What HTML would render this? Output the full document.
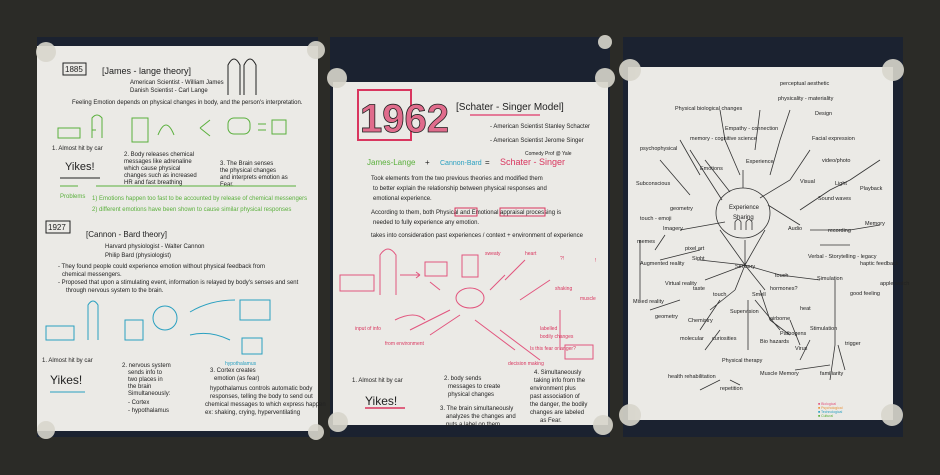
<!DOCTYPE html>
<html><head><meta charset="utf-8"><style>
html,body{margin:0;padding:0;background:#2b2b27;width:940px;height:475px;overflow:hidden}
svg{position:absolute;left:0;top:0}
text{font-family:"Liberation Sans",sans-serif}
</style></head><body>
<svg width="940" height="475" viewBox="0 0 940 475">
<rect width="940" height="475" fill="#2b2b27"/>
<!-- panel backgrounds -->
<rect x="37" y="37" width="281" height="400" fill="#1b2230"/>
<rect x="330" y="37" width="280" height="400" fill="#1b2230"/>
<rect x="623" y="37" width="280" height="400" fill="#1b2230"/>
<!-- papers -->
<rect x="37" y="46" width="281" height="385" fill="#ebeae6"/>
<rect x="333" y="82" width="275" height="343" fill="#ebeae6"/>
<rect x="628" y="67" width="265" height="353" fill="#ebeae6"/>
<!-- tape circles -->
<g fill="#d8d6cc" opacity="0.9">
<circle cx="46" cy="52" r="10"/><circle cx="316" cy="50" r="9"/>
<circle cx="46" cy="430" r="9"/><circle cx="316" cy="432" r="8"/>
<circle cx="337" cy="78" r="10"/><circle cx="605" cy="78" r="10"/><circle cx="605" cy="42" r="7"/>
<circle cx="338" cy="422" r="10"/><circle cx="603" cy="425" r="10"/>
<circle cx="630" cy="70" r="11"/><circle cx="893" cy="70" r="11"/>
<circle cx="630" cy="415" r="11"/><circle cx="892" cy="415" r="11"/>
</g>
<!-- LEFT PAPER -->
<g fill="#222" font-size="6">
<text x="65" y="72" font-size="8">1885</text>
<rect x="63" y="63" width="23" height="12" fill="none" stroke="#222"/>
<text x="102" y="74" font-size="9">[James - lange theory]</text>
<text x="130" y="84">American Scientist - William James</text>
<text x="130" y="92">Danish Scientist - Carl Lange</text>
<text x="72" y="104">Feeling Emotion depends on physical changes in body, and the person's interpretation.</text>
<text x="52" y="150" font-size="6">1. Almost hit by car</text>
<text x="65" y="170" font-size="11">Yikes!</text>
<text x="124" y="156">2. Body releases chemical</text>
<text x="124" y="163">messages like adrenaline</text>
<text x="124" y="170">which cause physical</text>
<text x="124" y="177">changes such as increased</text>
<text x="124" y="184">HR and fast breathing</text>
<text x="220" y="165">3. The Brain senses</text>
<text x="220" y="172">the physical changes</text>
<text x="220" y="179">and interprets emotion as</text>
<text x="220" y="186">Fear.</text>
<text x="48" y="230" font-size="8">1927</text>
<rect x="46" y="221" width="24" height="12" fill="none" stroke="#222"/>
<text x="86" y="237" font-size="8">[Cannon - Bard theory]</text>
<text x="105" y="248">Harvard physiologist - Walter Cannon</text>
<text x="105" y="257">Philip Bard (physiologist)</text>
<text x="58" y="268">- They found people could experience emotion without physical feedback from</text>
<text x="62" y="276">chemical messengers.</text>
<text x="58" y="284">- Proposed that upon a stimulating event, information is relayed by body's senses and sent</text>
<text x="66" y="292">through nervous system to the brain.</text>
<text x="42" y="362">1. Almost hit by car</text>
<text x="50" y="384" font-size="12">Yikes!</text>
<text x="122" y="367">2. nervous system</text>
<text x="128" y="374">sends info to</text>
<text x="128" y="381">two places in</text>
<text x="128" y="388">the brain</text>
<text x="128" y="395">Simultaneously:</text>
<text x="128" y="404">- Cortex</text>
<text x="128" y="412">- hypothalamus</text>
<text x="210" y="372">3. Cortex creates</text>
<text x="214" y="380">emotion (as fear)</text>
<text x="210" y="390">hypothalamus controls automatic body</text>
<text x="210" y="398">responses, telling the body to send out</text>
<text x="205" y="406">chemical messages to which express happen</text>
<text x="205" y="414">ex: shaking, crying, hyperventilating</text>
</g>
<g fill="#5ab03c" font-size="6">
<text x="60" y="198">Problems</text>
<text x="92" y="200">1) Emotions happen too fast to be accounted by release of chemical messengers</text>
<text x="92" y="211">2) different emotions have been shown to cause similar physical responses</text>
</g>
<g stroke="#5ab03c" fill="none" stroke-width="1">
<rect x="58" y="128" width="22" height="10"/><path d="M92 138 V118 q5 -6 10 0 V138"/>
<rect x="132" y="118" width="16" height="24"/><path d="M158 135 q8 -20 16 0"/>
<path d="M200 128 l10 -8 M200 128 l10 8"/><rect x="228" y="118" width="22" height="16" rx="6"/>
<path d="M258 124 h8 M258 130 h8"/><rect x="272" y="120" width="14" height="14"/>
<path d="M60 186 h18 M96 186 h200 M92 130 h4"/>
</g>
<g stroke="#222" fill="none" stroke-width="1">
<path d="M228 95 V65 q6 -12 12 0 V95 M244 95 V65 q6 -12 12 0 V95"/>
<path d="M60 178 h40"/>
</g>
<g stroke="#2aa0c0" fill="none" stroke-width="1">
<rect x="46" y="326" width="28" height="14"/><path d="M88 340 V305 q5 -8 10 0 V340"/>
<rect x="125" y="320" width="18" height="20"/><circle cx="165" cy="318" r="12"/>
<path d="M190 312 q20 -12 45 -12 M190 335 q20 -5 40 5"/>
<rect x="240" y="300" width="30" height="20"/><rect x="242" y="338" width="20" height="16"/>
<path d="M50 392 h35"/>
</g>
<text x="225" y="365" font-size="5" fill="#2aa0c0">hypothalamus</text>
<!-- MIDDLE PAPER -->
<g>
<rect x="358" y="90" width="53" height="50" fill="none" stroke="#d9365f" stroke-width="2"/>
<text x="360" y="132" font-size="40" font-weight="bold" fill="#e06c8c" stroke="#222" stroke-width="0.8">1962</text>
<text x="456" y="110" font-size="10" fill="#222">[Schater - Singer Model]</text>
<path d="M470 115 h70" stroke="#e2557e" stroke-width="1.5"/>
<g fill="#222" font-size="6">
<text x="490" y="128">- American Scientist Stanley Schacter</text>
<text x="490" y="142">- American Scientist  Jerome Singer</text>
<text x="525" y="155" font-size="5">Comedy Prof @ Yale</text>
<text x="371" y="180">Took elements from the two previous theories and modified them</text>
<text x="373" y="190">to better explain the relationship between physical responses and</text>
<text x="373" y="200">emotional experience.</text>
<text x="371" y="214">According to them, both Physical and Emotional appraisal processing is</text>
<text x="373" y="224">needed to fully experience any emotion.</text>
<text x="371" y="237">takes into consideration past experiences / context + environment of experience</text>
<text x="352" y="382">1. Almost hit by car</text>
<text x="365" y="405" font-size="12">Yikes!</text>
<text x="444" y="380">2. body sends</text>
<text x="448" y="388">messages to create</text>
<text x="448" y="396">physical changes</text>
<text x="440" y="410">3. The brain simultaneously</text>
<text x="446" y="418">analyzes the changes and</text>
<text x="446" y="426">puts a label on them</text>
<text x="534" y="374">4. Simultaneously</text>
<text x="534" y="382">taking info from the</text>
<text x="530" y="390">environment plus</text>
<text x="530" y="398">past association of</text>
<text x="530" y="406">the danger, the bodily</text>
<text x="530" y="414">changes are labeled</text>
<text x="540" y="422">as Fear.</text>
</g>
<text x="367" y="165" font-size="8" fill="#5ab03c">James-Lange</text>
<text x="425" y="165" font-size="8" fill="#222">+</text>
<text x="440" y="165" font-size="7" fill="#2aa0c0">Cannon-Bard</text>
<text x="485" y="165" font-size="8" fill="#222">=</text>
<text x="500" y="165" font-size="9" fill="#d9365f">Schater - Singer</text>
<rect x="455" y="208" width="22" height="8" fill="none" stroke="#d9365f"/>
<rect x="500" y="208" width="45" height="8" fill="none" stroke="#d9365f"/>
<path d="M365 408 h40" stroke="#d9365f" stroke-width="1.5"/>
<g stroke="#e2557e" fill="none" stroke-width="1">
<path d="M380 295 V255 q8 -12 16 0 V295"/>
<rect x="340" y="275" width="34" height="16"/>
<path d="M400 275 h20 M420 275 l-4 -3 M420 275 l-4 3"/>
<rect x="425" y="262" width="22" height="14"/>
<rect x="462" y="255" width="16" height="22"/>
<ellipse cx="470" cy="298" rx="14" ry="10"/>
<path d="M440 290 l-10 -8 M490 290 l15 -15 M505 280 l20 -20 M520 300 l30 -20"/>
<path d="M450 310 l-40 20 M475 320 l40 30 M560 310 v40"/>
<path d="M395 320 q20 -10 30 0 M430 335 l30 -20 M500 330 l40 30"/>
<rect x="565" y="345" width="28" height="14"/>
</g>
<g fill="#d9365f" font-size="5">
<text x="485" y="255">sweaty</text><text x="525" y="255">heart</text>
<text x="560" y="260">?!</text><text x="595" y="262">!</text>
<text x="555" y="290">shaking</text><text x="580" y="300">muscle</text>
<text x="540" y="330">labelled</text><text x="540" y="338">bodily changes</text>
<text x="355" y="330">input of info</text><text x="385" y="345">from environment</text>
<text x="508" y="365">decision making</text>
<text x="530" y="350">Is this fear or anger?</text>
</g>
</g>
<!-- RIGHT PAPER -->
<g stroke="#333" fill="none" stroke-width="0.8">
<ellipse cx="743" cy="213" rx="27" ry="25"/>
<path d="M735 230 v-8 q3 -5 6 0 v8 M746 230 v-8 q3 -5 6 0 v8"/>
<path d="M743 188 V170 M722 200 L690 150 M730 192 L705 160 M760 198 L790 180 L810 150 M768 205 L800 225"/>
<path d="M765 230 L745 265 M720 230 L745 265 M725 222 L680 230 M745 265 V240"/>
<path d="M745 265 L700 260 M745 265 L705 280 M745 265 L735 290 M745 265 L765 290 M745 265 L780 275 L820 280"/>
<path d="M760 290 L770 320 M770 320 L790 335 M735 290 L710 310 M720 300 L700 330 M748 300 V350"/>
<path d="M835 280 V345 M835 345 L830 380 M838 345 L845 370 M795 370 L830 365"/>
<path d="M810 230 L850 230 M850 230 L880 225 M820 245 L850 245 M800 210 L830 190 M830 190 L850 180 M850 180 L880 160"/>
<path d="M740 175 L725 140 L720 110 M770 175 L780 140 L790 110 M755 150 L760 110 M700 175 L680 140 M690 195 L660 160"/>
<path d="M665 235 L655 250 M700 250 L660 260 M640 240 L640 300 M720 330 L705 350 M680 300 L650 310"/>
<path d="M755 300 L780 330 M790 320 L800 345 M740 385 L730 380 M720 380 L700 390 M800 360 L810 340"/>
</g>
<g fill="#222" font-size="5.5">
<text x="729" y="209" font-size="6">Experience</text>
<text x="733" y="219" font-size="6">Sharing</text>
<text x="735" y="268">Sensory</text>
<text x="692" y="260">Sight</text>
<text x="693" y="290">taste</text>
<text x="713" y="296">touch</text>
<text x="752" y="296">Smell</text>
<text x="775" y="277">touch</text>
<text x="788" y="230">Audio</text>
<text x="800" y="183">Visual</text>
<text x="700" y="170">Emotions</text>
<text x="746" y="163">Experience</text>
<text x="663" y="230">Imagery</text>
<text x="637" y="243">memes</text>
<text x="640" y="220">touch - emoji</text>
<text x="670" y="210">geometry</text>
<text x="685" y="250">pixel art</text>
<text x="640" y="265">Augmented reality</text>
<text x="665" y="285">Virtual reality</text>
<text x="633" y="303">Mixed reality</text>
<text x="655" y="318">geometry</text>
<text x="688" y="322">Chemistry</text>
<text x="680" y="340">molecular</text>
<text x="712" y="340">curiosities</text>
<text x="730" y="313">Supervision</text>
<text x="770" y="320">airborne</text>
<text x="780" y="335">Pathogens</text>
<text x="760" y="343">Bio hazards</text>
<text x="795" y="350">Virus</text>
<text x="770" y="290">hormones?</text>
<text x="800" y="310">heat</text>
<text x="817" y="280">Simulation</text>
<text x="860" y="265">haptic feedback</text>
<text x="850" y="295">good feeling</text>
<text x="880" y="285">apple watch</text>
<text x="808" y="258">Verbal - Storytelling - legacy</text>
<text x="828" y="232">recording</text>
<text x="865" y="225">Memory</text>
<text x="818" y="200">Sound waves</text>
<text x="835" y="185">Light</text>
<text x="860" y="190">Playback</text>
<text x="822" y="162">video/photo</text>
<text x="812" y="140">Facial expression</text>
<text x="815" y="115">Design</text>
<text x="778" y="100">physicality - materiality</text>
<text x="780" y="85">perceptual aesthetic</text>
<text x="675" y="110">Physical biological changes</text>
<text x="690" y="140">memory - cognitive science</text>
<text x="725" y="130">Empathy - connection</text>
<text x="640" y="150">psychophysical</text>
<text x="636" y="185">Subconscious</text>
<text x="810" y="330">Stimulation</text>
<text x="845" y="345">trigger</text>
<text x="820" y="375">familiarity</text>
<text x="722" y="362">Physical therapy</text>
<text x="760" y="375">Muscle Memory</text>
<text x="668" y="378">health rehabilitation</text>
<text x="720" y="390">repetition</text>
</g>
<g font-size="3.5"><text x="818" y="405" fill="#e2557e">■ Biological</text><text x="818" y="409" fill="#e8933a">■ Psychological</text><text x="818" y="413" fill="#2aa0c0">■ Technological</text><text x="818" y="417" fill="#5ab03c">■ Cultural</text></g>
</svg>
</body></html>
